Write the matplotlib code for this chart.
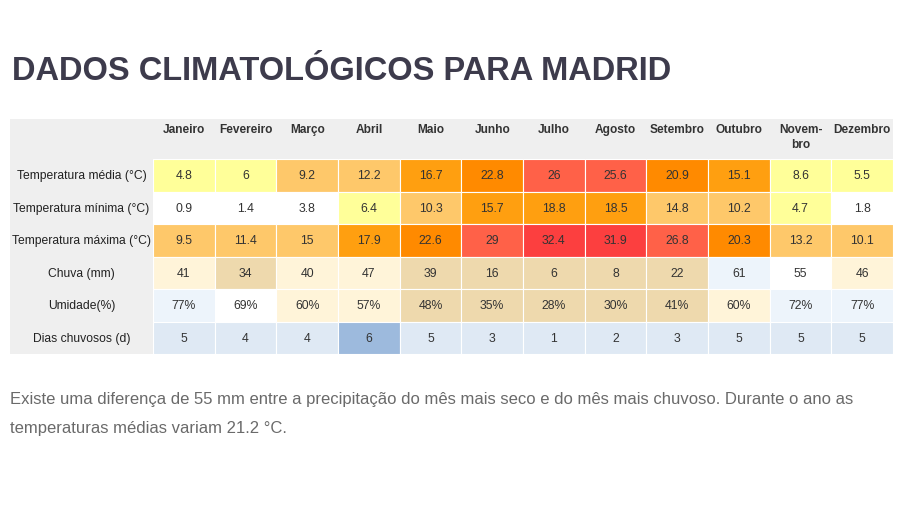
import numpy as np
import matplotlib
matplotlib.use("Agg")
import matplotlib.pyplot as plt
from matplotlib.patches import Rectangle

plt.rcParams['font.family'] = ['Liberation Sans', 'DejaVu Sans']

# ========= dados =========
meses = ["Janeiro", "Fevereiro", "Março", "Abril", "Maio", "Junho", "Julho",
         "Agosto", "Setembro", "Outubro", "Novem-\nbro", "Dezembro"]
linhas = ["Temperatura média (°C)", "Temperatura mínima (°C)",
          "Temperatura máxima (°C)", "Chuva (mm)", "Umidade(%)",
          "Dias chuvosos (d)"]

temp_media = [4.8, 6, 9.2, 12.2, 16.7, 22.8, 26, 25.6, 20.9, 15.1, 8.6, 5.5]
temp_min = [0.9, 1.4, 3.8, 6.4, 10.3, 15.7, 18.8, 18.5, 14.8, 10.2, 4.7, 1.8]
temp_max = [9.5, 11.4, 15, 17.9, 22.6, 29, 32.4, 31.9, 26.8, 20.3, 13.2, 10.1]
chuva = [41, 34, 40, 47, 39, 16, 6, 8, 22, 61, 55, 46]
umidade = [77, 69, 60, 57, 48, 35, 28, 30, 41, 60, 72, 77]
dias_chuvosos = [5, 4, 4, 6, 5, 3, 1, 2, 3, 5, 5, 5]

titulo = "DADOS CLIMATOLÓGICOS PARA MADRID"
texto = ("Existe uma diferença de 55 mm entre a precipitação do mês mais seco e do mês mais chuvoso. Durante o ano as\n"
         "temperaturas médias variam 21.2 °C.")
# =========================


def cor_temp(v):
    if v < 4:
        return "#ffffff"
    if v < 9:
        return "#ffff99"
    if v <= 15:
        return "#fec86a"
    if v < 20:
        return "#ff9f10"
    if v < 25:
        return "#ff8a00"
    if v < 30:
        return "#ff6148"
    return "#fc3f3f"


def cor_chuva(v):
    if v < 40:
        return "#eed9ad"
    if v < 50:
        return "#fff4d9"
    if v < 60:
        return "#ffffff"
    return "#edf4fb"


def cor_umidade(v):
    if v < 50:
        return "#eed9ad"
    if v < 65:
        return "#fff4d9"
    if v < 70:
        return "#ffffff"
    return "#edf4fb"


def cor_dias(v):
    if v >= 6:
        return "#9dbadd"
    return "#dfe9f4"


W, H = 900, 506
fig = plt.figure(figsize=(W / 100, H / 100), dpi=100)
fig.patch.set_facecolor("white")

# título e texto
fig.text(12 / W, 1 - 71 / H, titulo, fontsize=23.5, fontweight="bold",
         color="#3d3b4c", va="center", ha="left")
fig.text(10 / W, 1 - 414 / H, texto, fontsize=12, color="#6a6a6a",
         va="center", ha="left", linespacing=2.1)

# tabela
x0, x1, y0, y1 = 10, 893, 120, 355
lab_w = 143 / ((x1 - x0 - 143) / 12)
head_h = 40 / ((y1 - y0 - 40) / 6)
ax = fig.add_axes([x0 / W, 1 - y1 / H, (x1 - x0) / W, (y1 - y0) / H])
ax.set_xlim(-lab_w, 12)
ax.set_ylim(6, -head_h)
ax.axis("off")

ax.add_patch(Rectangle((-lab_w, -head_h), lab_w + 12, head_h,
                       facecolor="#efefef", edgecolor="none"))
ax.add_patch(Rectangle((-lab_w, 0), lab_w, 6,
                       facecolor="#efefef", edgecolor="none"))

dados = [temp_media, temp_min, temp_max, chuva, umidade, dias_chuvosos]
cores = [cor_temp, cor_temp, cor_temp, cor_chuva, cor_umidade, cor_dias]

for i, (vals, fcor) in enumerate(zip(dados, cores)):
    for j, v in enumerate(vals):
        ax.add_patch(Rectangle((j, i), 1, 1, facecolor=fcor(v),
                               edgecolor="white", linewidth=0.8))
        if i == 4:
            s = f"{v}%"
        else:
            s = f"{v}"
        ax.text(j + 0.5, i + 0.5, s, ha="center", va="center",
                fontsize=8.8, color="#333333")
    ax.text(-lab_w / 2, i + 0.5, linhas[i], ha="center", va="center",
            fontsize=8.7, color="#222222")

for j, m in enumerate(meses):
    ax.text(j + 0.5, -head_h + 0.12, m, ha="center", va="top",
            fontsize=8.6, fontweight="bold", color="#333333",
            linespacing=1.3)

fig.savefig("out.png", dpi=100, facecolor="white")
